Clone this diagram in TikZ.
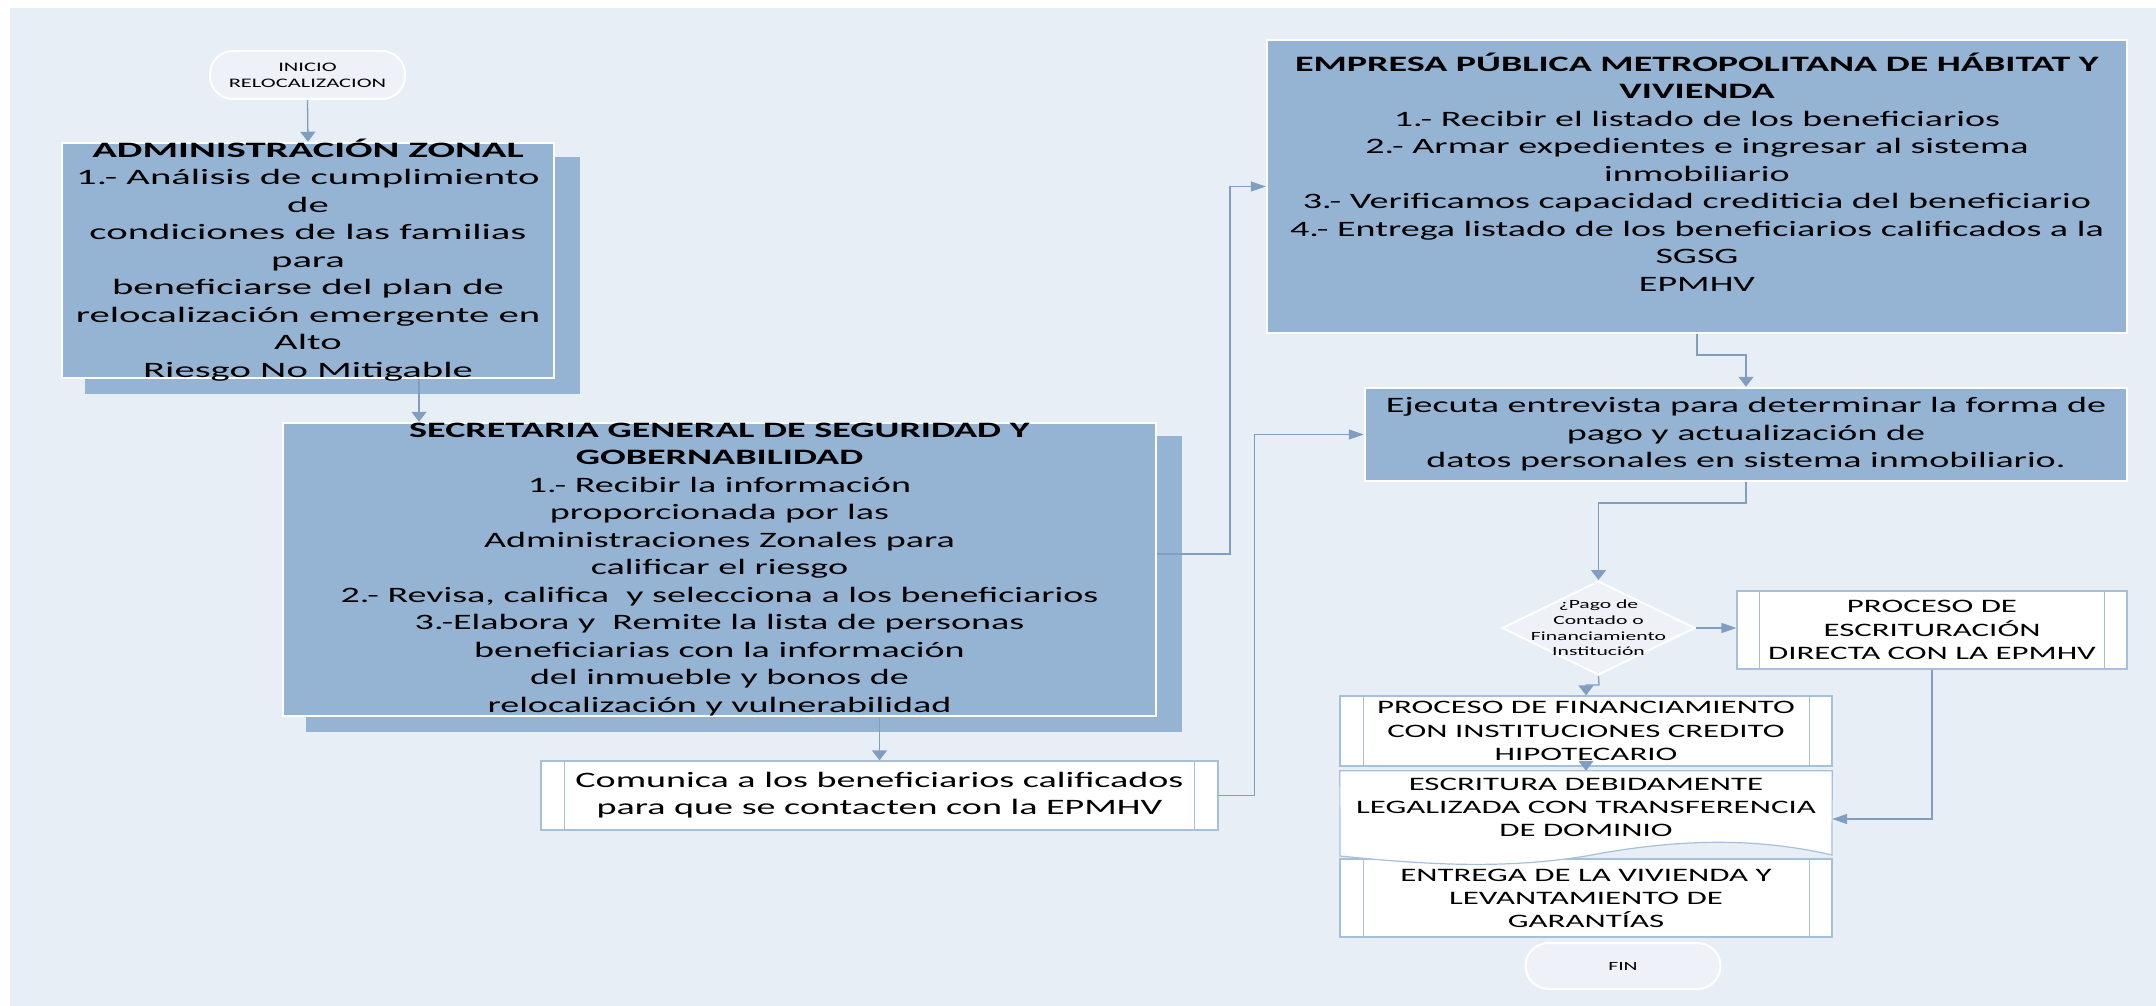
\documentclass[tikz,border=0pt]{standalone}
\usepackage{fontspec}
\newfontfamily\cf[FakeStretch=1.73]{Carlito}
\newfontfamily\cfw[FakeStretch=1.85]{Carlito}
\usetikzlibrary{arrows.meta,shapes.geometric}
\definecolor{bgc}{RGB}{232,238,246}
\definecolor{boxc}{RGB}{149,180,211}
\definecolor{linec}{RGB}{127,158,192}
\definecolor{bordc}{RGB}{166,192,220}
\definecolor{termc}{RGB}{238,242,248}
\tikzset{
  bluebox/.style={draw=white, line width=2.5pt, fill=boxc, inner sep=0pt},
  shadowbox/.style={fill=boxc},
  whitebox/.style={draw=bordc, line width=1.2pt, fill=white, inner sep=0pt},
  term/.style={draw=white, line width=2pt, fill=termc, rounded corners=23pt, inner sep=0pt},
  dec/.style={diamond, draw=white, line width=2pt, fill=termc, inner sep=0pt},
  bigtxt/.style={font=\cf\fontsize{22}{27.5}\selectfont, align=center, inner sep=0pt},
  midtxt/.style={font=\cf\fontsize{19}{23.3}\selectfont, align=center, inner sep=0pt},
  smalltxt/.style={font=\cf\fontsize{12.5}{15.7}\selectfont, align=center, inner sep=0pt},
  conn/.style={draw=linec, line width=1.3pt},
  harrow/.style={conn, -{Triangle[length=15pt,width=10pt]}},
  varrow/.style={conn, -{Triangle[length=10pt,width=15pt]}},
  inner/.style={draw=bordc, line width=1.2pt}
}
\begin{document}
\begin{tikzpicture}[x=1pt,y=-1pt]
\useasboundingbox (0,0) rectangle (2156,1006);
\fill[white] (0,0) rectangle (2156,1006);
\fill[bgc] (10,8) rectangle (2156,1006);

% shadows
\fill[shadowbox] (85,157) rectangle (580,394);
\fill[shadowbox] (306,436) rectangle (1182,732);

% terminal start
\node[term, minimum width=195pt, minimum height=48pt] (inicio) at (307.5,75) {};
\node[smalltxt, font=\cf\fontsize{13}{16}\selectfont] (iniciot) at (inicio.center) {INICIO\\RELOCALIZACION};

% ADMIN
\node[bluebox, minimum width=492pt, minimum height=235pt] (admin) at (308,260.5) {};
\node[bigtxt, font=\cfw\fontsize{22}{27.5}\selectfont] (admint) at (308,260) {\textbf{ADMINISTRACIÓN ZONAL}\\
1.- Análisis de cumplimiento\\
de\\
condiciones de las familias\\
para\\
beneficiarse del plan de\\
relocalización emergente en\\
Alto\\
Riesgo No Mitigable};

% SGSG
\node[bluebox, minimum width=873pt, minimum height=293pt] (sgsg) at (719.5,569.5) {};
\node[bigtxt] (sgsgt) at (719.5,569.5) {\textbf{SECRETARIA GENERAL DE SEGURIDAD Y}\\
\textbf{GOBERNABILIDAD}\\
1.- Recibir la información\\
proporcionada por las\\
Administraciones Zonales para\\
calificar el riesgo\\
2.- Revisa, califica\ \ y selecciona a los beneficiarios\\
3.-Elabora y\ \ Remite la lista de personas\\
beneficiarias con la información\\
del inmueble y bonos de\\
relocalización y vulnerabilidad};

% EMPRESA
\node[bluebox, minimum width=860pt, minimum height=293pt] (empresa) at (1697,186.5) {};
\node[bigtxt] (empresat) at (1697,172) {\textbf{EMPRESA PÚBLICA METROPOLITANA DE HÁBITAT Y}\\
\textbf{VIVIENDA}\\
1.- Recibir el listado de los beneficiarios\\
2.- Armar expedientes e ingresar al sistema\\
inmobiliario\\
3.- Verificamos capacidad crediticia del beneficiario\\
4.- Entrega listado de los beneficiarios calificados a la\\
SGSG\\
EPMHV};

% Ejecuta
\node[bluebox, minimum width=762pt, minimum height=93pt] (ejecuta) at (1746,434.5) {};
\node[bigtxt] (ejecutat) at (1746,434.5) {Ejecuta entrevista para determinar la forma de\\
pago y actualización de\\
datos personales en sistema inmobiliario.};

% Comunica
\node[whitebox, minimum width=677pt, minimum height=69pt] (comunica) at (879.5,795.5) {};
\draw[inner] ([xshift=24pt]comunica.north west) -- ([xshift=24pt]comunica.south west);
\draw[inner] ([xshift=-24pt]comunica.north east) -- ([xshift=-24pt]comunica.south east);
\node[bigtxt, font=\cf\fontsize{22}{27}\selectfont] (comunicat) at (879.5,795.5) {Comunica a los beneficiarios calificados\\
para que se contacten con la EPMHV};

% Decision
\node[dec, minimum width=193pt, minimum height=94pt] (diamond) at (1598.5,628) {};
\node[smalltxt] (diamondt) at (1598.5,628) {¿Pago de\\Contado o\\Financiamiento\\Institución};

% Proceso escrituracion
\node[whitebox, minimum width=390pt, minimum height=78pt] (escrit) at (1932,630) {};
\draw[inner] ([xshift=23pt]escrit.north west) -- ([xshift=23pt]escrit.south west);
\draw[inner] ([xshift=-23pt]escrit.north east) -- ([xshift=-23pt]escrit.south east);
\node[midtxt] (escritt) at (1932,630) {PROCESO DE\\ESCRITURACIÓN\\DIRECTA CON LA EPMHV};

% Proceso financiamiento
\node[whitebox, minimum width=492pt, minimum height=70pt] (financ) at (1586,731) {};
\draw[inner] ([xshift=24pt]financ.north west) -- ([xshift=24pt]financ.south west);
\draw[inner] ([xshift=-23pt]financ.north east) -- ([xshift=-23pt]financ.south east);
\node[midtxt] (financt) at (1586,731) {PROCESO DE FINANCIAMIENTO\\CON INSTITUCIONES CREDITO\\HIPOTECARIO};

% Entrega
\node[whitebox, minimum width=492pt, minimum height=78pt] (entrega) at (1586,898) {};
\draw[inner] ([xshift=24pt]entrega.north west) -- ([xshift=24pt]entrega.south west);
\draw[inner] ([xshift=-23pt]entrega.north east) -- ([xshift=-23pt]entrega.south east);
\node[midtxt] (entregat) at (1586,898.5) {ENTREGA DE LA VIVIENDA Y\\LEVANTAMIENTO DE\\GARANTÍAS};

% Escritura (document shape)
\node[inner sep=0pt, minimum width=492pt, minimum height=86pt] (escritura) at (1586,814) {};
\draw[draw=bordc, line width=1.2pt, fill=white] (escritura.north west) -- (escritura.north east) -- (1832,855)
  .. controls (1750,836) and (1670,840) .. (1586,856)
  .. controls (1500,870) and (1420,864) .. (1340,856) -- cycle;
\node[midtxt] (escriturat) at (1586,807.5) {ESCRITURA DEBIDAMENTE\\LEGALIZADA CON TRANSFERENCIA\\DE DOMINIO};

% FIN
\node[term, minimum width=195pt, minimum height=46pt] (fin) at (1623,966) {};
\node[smalltxt] (fint) at (fin.center) {FIN};

% connectors
\coordinate (j2) at (419,400);
\coordinate (j1) at (1230,554);
\coordinate (j6) at (1697,355);
\coordinate (j7) at (1746,503);
\coordinate (j9) at (1599,685);
\coordinate (j11) at (1932,819);

\draw[varrow] (inicio.south) -- (admin.north);
\draw[varrow] (admin.south -| j2) -- (sgsg.north -| j2);
\draw[harrow] (sgsg.east |- j1) -- (j1) |- (empresa.west);
\draw[varrow] (sgsg.south -| comunica.north) -- (comunica.north);
\draw[harrow] (comunica.east) -- ++(36,0) |- (ejecuta.west);
\draw[varrow] (empresa.south) -- (j6) -| (ejecuta.north);
\draw[varrow] (ejecuta.south) -- (j7) -| (diamond.north);
\draw[harrow] (diamond.east) -- (diamond.east -| escrit.west);
\draw[varrow] (diamond.south) -- (j9) -| (financ.north);
\draw[varrow] (financ.south) -- (escritura.north);
\draw[harrow] (escrit.south) -- (j11) -- (escritura.east |- j11);
\end{tikzpicture}
\end{document}
